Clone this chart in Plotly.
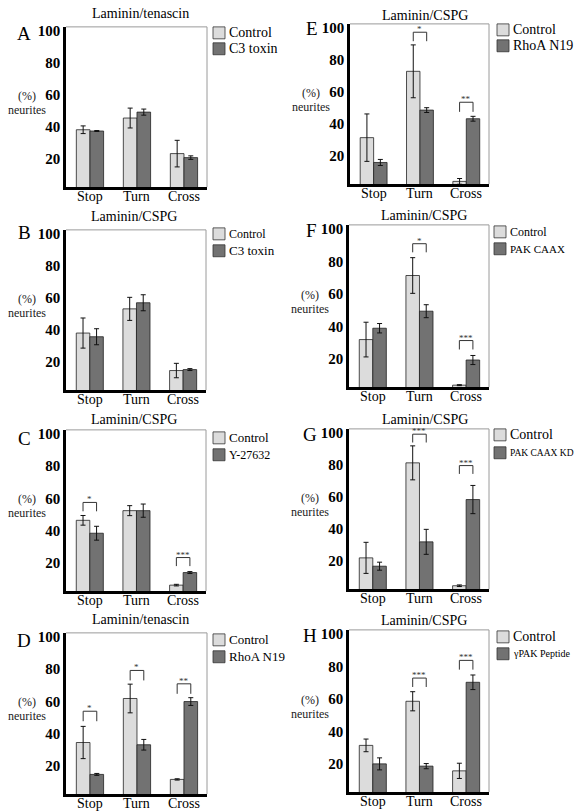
import plotly.graph_objects as go

W, H = 576, 811

categories = ["Stop", "Turn", "Cross"]
y_ticks = [20, 40, 60, 80, 100]

A_control = [38.3, 45.6, 23.4]
A_control_err = [2.4, 6.2, 8.3]
A_treated = [37.5, 49.3, 20.9]
A_treated_err = [0.3, 1.9, 1.1]
A_brackets = []  # (category index, bracket top, leg bottom, stars)

B_control = [38.1, 53.2, 14.7]
B_control_err = [9.4, 7.2, 4.5]
B_treated = [35.8, 57.0, 15.3]
B_treated_err = [5.0, 5.0, 0.6]
B_brackets = []

C_control = [46.4, 52.4, 6.2]
C_control_err = [3.0, 3.1, 0.5]
C_treated = [38.4, 52.4, 14.0]
C_treated_err = [4.3, 4.1, 0.6]
C_brackets = [(0, 57.5, 52.0, "*"), (2, 23.3, 18.0, "***")]

D_control = [34.5, 61.8, 11.6]
D_control_err = [10.0, 8.9, 0.4]
D_treated = [14.7, 33.1, 59.9]
D_treated_err = [0.6, 3.3, 2.4]
D_brackets = [(0, 53.9, 47.7, "*"), (1, 79.2, 73.0, "*"), (2, 70.9, 64.7, "**")]

E_control = [31.5, 72.9, 4.2]
E_control_err = [14.8, 16.5, 1.8]
E_treated = [16.0, 48.7, 43.3]
E_treated_err = [1.9, 1.5, 1.5]
E_brackets = [(1, 97.3, 91.7, "*"), (2, 53.6, 47.6, "**")]

F_control = [31.8, 71.3, 3.7]
F_control_err = [10.7, 11.0, 0.3]
F_treated = [38.8, 49.3, 19.2]
F_treated_err = [2.9, 4.0, 2.8]
F_brackets = [(1, 90.9, 85.6, "*"), (2, 31.2, 25.7, "***")]

G_control = [22.0, 81.3, 4.6]
G_control_err = [9.7, 10.6, 0.5]
G_treated = [16.8, 32.0, 58.4]
G_treated_err = [2.5, 7.8, 8.8]
G_brackets = [(1, 99.2, 94.0, "***"), (2, 79.6, 74.4, "***")]

H_control = [31.3, 58.5, 15.6]
H_control_err = [3.9, 5.9, 4.7]
H_treated = [19.9, 18.5, 70.2]
H_treated_err = [3.7, 1.6, 4.5]
H_brackets = [(1, 72.8, 67.3, "***"), (2, 83.7, 78.0, "***")]

titles = {"A": "Laminin/tenascin", "B": "Laminin/CSPG", "C": "Laminin/CSPG", "D": "Laminin/tenascin",
          "E": "Laminin/CSPG", "F": "Laminin/CSPG", "G": "Laminin/CSPG", "H": "Laminin/CSPG"}
treat_names = {"A": "C3 toxin", "B": "C3 toxin", "C": "Y-27632", "D": "RhoA N19",
               "E": "RhoA N19", "F": "PAK CAAX", "G": "PAK CAAX KD", "H": "γPAK Peptide"}

data = {
    "A": (A_control, A_control_err, A_treated, A_treated_err, A_brackets),
    "B": (B_control, B_control_err, B_treated, B_treated_err, B_brackets),
    "C": (C_control, C_control_err, C_treated, C_treated_err, C_brackets),
    "D": (D_control, D_control_err, D_treated, D_treated_err, D_brackets),
    "E": (E_control, E_control_err, E_treated, E_treated_err, E_brackets),
    "F": (F_control, F_control_err, F_treated, F_treated_err, F_brackets),
    "G": (G_control, G_control_err, G_treated, G_treated_err, G_brackets),
    "H": (H_control, H_control_err, H_treated, H_treated_err, H_brackets),
}

# layout: plot box in pixels (x0, x1, ytop, ybottom)
boxes = {
    "A": (66, 207, 23, 184), "E": (350, 489, 20, 181),
    "B": (66, 206, 227, 388), "F": (349, 489, 222, 385),
    "C": (66, 206, 428, 590), "G": (349, 489, 427, 588),
    "D": (66, 207, 632, 794), "H": (349, 489, 629, 792),
}
# legend square top-left (px) and vertical step
legend_pos = {
    "A": (213, 23, 16), "E": (497, 20, 16),
    "B": (213, 225, 17), "F": (494, 223, 17),
    "C": (213, 430, 17), "G": (494, 427, 18),
    "D": (213, 633, 17), "H": (497, 630, 17),
}
legend_fonts = {
    "A": (14, 14), "E": (14, 14), "B": (12, 13), "F": (12, 11),
    "C": (13, 12), "G": (14, 9.5), "D": (13, 13), "H": (14, 10),
}
title_pos = {"A": (140, 10), "E": (425, 12), "B": (134, 214), "F": (424, 213),
             "C": (134, 418), "G": (425, 418), "D": (140, 619), "H": (424, 620)}
letter_pos = {"A": (24, 30), "E": (312, 25), "B": (24, 230), "F": (311, 228),
              "C": (24, 437), "G": (310, 433), "D": (24, 640), "H": (310, 635)}

CTRL = "#dcdcdc"
TRT = "#727272"
FONT = "Liberation Serif"

def px(x):
    return x / W

def py(y):
    return 1 - y / H

fig = go.Figure()
shapes = []
annotations = []
layout_axes = {}

order = ["A", "E", "B", "F", "C", "G", "D", "H"]
for n, key in enumerate(order, start=1):
    xa = "x" if n == 1 else f"x{n}"
    ya = "y" if n == 1 else f"y{n}"
    ctrl, ctrl_err, trt, trt_err, brackets = data[key]
    x0, x1, yt, yb = boxes[key]
    xs = list(range(len(categories)))
    fig.add_trace(go.Bar(x=xs, y=ctrl, name="Control", xaxis=xa, yaxis=ya, showlegend=False,
                         offsetgroup="c", marker=dict(color=CTRL, line=dict(color="#222", width=0.8)),
                         error_y=dict(type="data", array=ctrl_err, color="#111", thickness=1, width=2.5)))
    fig.add_trace(go.Bar(x=xs, y=trt, name=treat_names[key], xaxis=xa, yaxis=ya, showlegend=False,
                         offsetgroup="t", marker=dict(color=TRT, line=dict(color="#222", width=0.8)),
                         error_y=dict(type="data", array=trt_err, color="#111", thickness=1, width=2.5)))
    layout_axes["xaxis" if n == 1 else f"xaxis{n}"] = dict(
        domain=[px(x0), px(x1)], anchor=ya, range=[-0.51, 2.49],
        tickvals=xs, showticklabels=False, showline=True, linecolor="black", linewidth=2.5,
        showgrid=False, zeroline=False, ticks="", fixedrange=True)
    layout_axes["yaxis" if n == 1 else f"yaxis{n}"] = dict(
        domain=[py(yb), py(yt)], anchor=xa, range=[2.5, 102.5],
        tickvals=y_ticks, showline=True, linecolor="black", linewidth=2.5,
        showgrid=False, zeroline=False, ticks="", fixedrange=True,
        tickfont=dict(family=FONT, size=15, color="black", weight="bold"))
    # category labels just below the axis
    for i, cat in enumerate(categories):
        annotations.append(dict(x=i, y=py(yb + 9), xref=xa, yref="paper", text=cat, showarrow=False,
                                xanchor="center", yanchor="middle",
                                font=dict(family=FONT, size=14, color="black")))
    # light top/right frame
    shapes.append(dict(type="line", xref=f"{xa} domain", yref=f"{ya} domain", x0=0, x1=1, y0=1, y1=1,
                       line=dict(color="#9a9a9a", width=1)))
    shapes.append(dict(type="line", xref=f"{xa} domain", yref=f"{ya} domain", x0=1, x1=1, y0=0, y1=1,
                       line=dict(color="#9a9a9a", width=1)))
    # significance brackets
    for (ci, top, leg, stars) in brackets:
        a, b = ci - 0.145, ci + 0.145
        shapes.append(dict(type="path", xref=xa, yref=ya,
                           path=f"M {a},{leg} L {a},{top} L {b},{top} L {b},{leg}",
                           line=dict(color="#333", width=1)))
        annotations.append(dict(x=ci, y=top, xref=xa, yref=ya, text=stars, showarrow=False,
                                yanchor="bottom", yshift=-4, font=dict(family=FONT, size=9, color="#333")))
    # title and panel letter
    tx, ty = title_pos[key]
    annotations.append(dict(x=px(tx), y=py(ty), xref="paper", yref="paper", text=titles[key],
                            showarrow=False, xanchor="center", yanchor="middle",
                            font=dict(family=FONT, size=14, color="black")))
    lx, ly = letter_pos[key]
    annotations.append(dict(x=px(lx), y=py(ly), xref="paper", yref="paper", text=key,
                            showarrow=False, xanchor="center", yanchor="middle",
                            font=dict(family=FONT, size=19, color="black")))
    # y label
    yl_x = x0 - 39
    ymid = yt + (yb - yt) * 0.43
    annotations.append(dict(x=px(yl_x), y=py(ymid), xref="paper", yref="paper", text="(%)",
                            showarrow=False, xanchor="center", yanchor="middle",
                            font=dict(family=FONT, size=12, color="#222222")))
    annotations.append(dict(x=px(yl_x), y=py(ymid + 14), xref="paper", yref="paper", text="neurites",
                            showarrow=False, xanchor="center", yanchor="middle",
                            font=dict(family=FONT, size=12, color="#222222")))
    # legend
    sx, sy, step = legend_pos[key]
    f1, f2 = legend_fonts[key]
    for j, (col, label, fs) in enumerate([(CTRL, "Control", f1), (TRT, treat_names[key], f2)]):
        top = sy + j * step
        shapes.append(dict(type="rect", xref="paper", yref="paper",
                           x0=px(sx), x1=px(sx + 12), y0=py(top + 12), y1=py(top),
                           fillcolor=col, line=dict(color="#333", width=0.8)))
        annotations.append(dict(x=px(sx + 14), y=py(top + 6), xref="paper", yref="paper", text=label,
                                showarrow=False, xanchor="left", yanchor="middle",
                                font=dict(family=FONT, size=fs, color="black")))

fig.update_layout(
    width=W, height=H, margin=dict(l=0, r=0, t=0, b=0),
    paper_bgcolor="white", plot_bgcolor="white",
    barmode="group", bargap=0.42, bargroupgap=0,
    shapes=shapes, annotations=annotations, showlegend=False,
    **layout_axes,
)

fig.write_html("out.html", config={"displayModeBar": False},
               post_script="document.body.style.margin='0px';document.body.style.padding='0px';")
